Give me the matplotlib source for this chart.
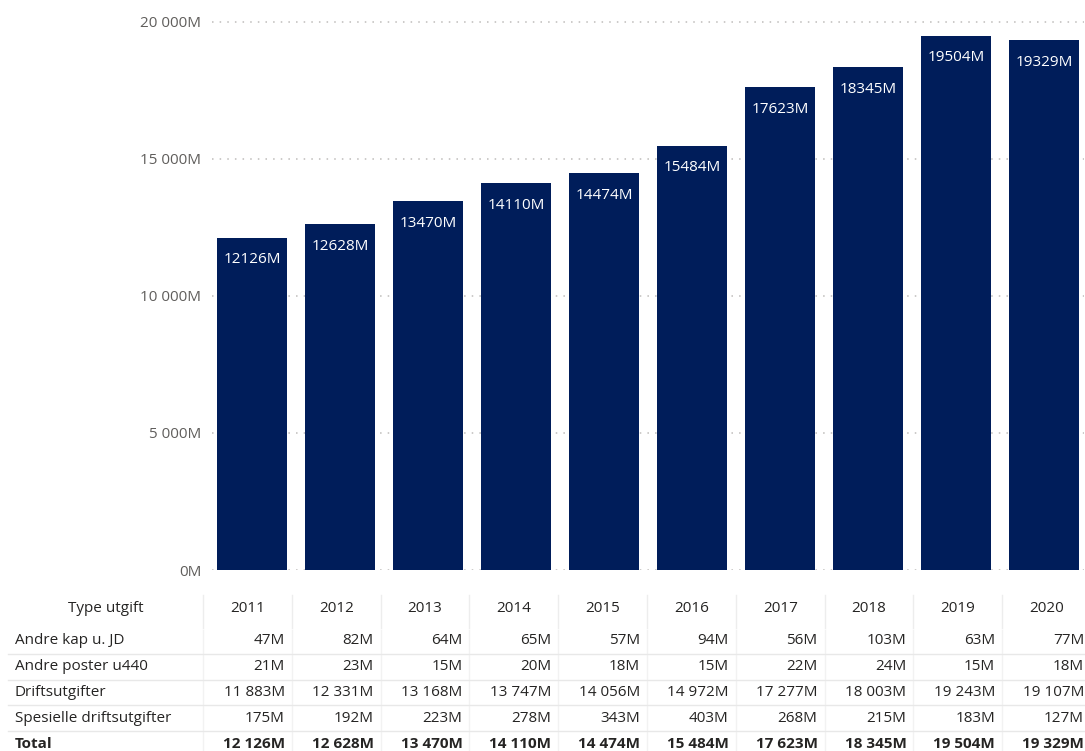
import matplotlib
matplotlib.use("Agg")
import matplotlib.pyplot as plt

plt.rcParams['font.family'] = ['Open Sans', 'Noto Sans', 'DejaVu Sans']

years = ['2011', '2012', '2013', '2014', '2015', '2016', '2017', '2018', '2019', '2020']
totals = [12126, 12628, 13470, 14110, 14474, 15484, 17623, 18345, 19504, 19329]

row_names = ['Andre kap u. JD', 'Andre poster u440', 'Driftsutgifter', 'Spesielle driftsutgifter']
andre_kap = [47, 82, 64, 65, 57, 94, 56, 103, 63, 77]
andre_poster = [21, 23, 15, 20, 18, 15, 22, 24, 15, 18]
drift = [11883, 12331, 13168, 13747, 14056, 14972, 17277, 18003, 19243, 19107]
spesielle = [175, 192, 223, 278, 343, 403, 268, 215, 183, 127]
yticks = [0, 5000, 10000, 15000, 20000]

BAR = '#001D5A'
TXT = '#252423'
GRAY = '#605E5C'


def fmt(v):
    return '{:,}M'.format(v).replace(',', ' ')


W, H = 1085, 751
fig = plt.figure(figsize=(W / 100, H / 100), dpi=100)

# table overlay in pixel coords
tab = fig.add_axes([0, 0, 1, 1])
tab.set_xlim(0, W)
tab.set_ylim(H, 0)
tab.axis('off')

# bar chart
ax = fig.add_axes([212.4 / W, 1 - 570 / H, 871.2 / W, 560 / H])
x = range(len(years))
ax.bar(x, totals, width=0.805, color=BAR, zorder=2)
ax.set_xlim(-0.45, 9.45)
ax.set_ylim(0, 20000 * 560 / 548)
ax.set_yticks(yticks)
ax.set_yticklabels([fmt(v) for v in yticks], color=GRAY, fontsize=11)
ax.tick_params(axis='y', length=0, pad=8)
ax.set_xticks([])
for s in ax.spines.values():
    s.set_visible(False)
ax.grid(axis='y', color='#BEBCBA', linestyle=(0, (1, 4)), linewidth=1.1, zorder=1)
ax.set_axisbelow(True)
ax.patch.set_alpha(0)

for i, v in enumerate(totals):
    ax.annotate('{}M'.format(v), (i, v), xytext=(0, -16), textcoords='offset points',
                ha='center', va='center', color='white', fontsize=11)

# table
first_l, first_r = 8, 203
step = 88.8
edges = [first_r + k * step for k in range(len(years) + 1)]
row_y = [641, 666, 692, 719]
sep_y = [654, 680, 705, 731]
line_c = '#E8E8E8'

tab.text((first_l + first_r) / 2, 608, 'Type utgift', ha='center', va='center',
         fontsize=11, color=TXT)
for k, yr in enumerate(years):
    tab.text((edges[k] + edges[k + 1]) / 2, 608, yr, ha='center', va='center',
             fontsize=11, color=TXT)
for e in [first_r] + edges[1:-1]:
    tab.plot([e, e], [595, 628], color='#EDEDED', lw=1)
    tab.plot([e, e], [630, H], color='#F2F2F2', lw=1)

for yy in sep_y:
    tab.plot([first_l, W], [yy, yy], color=line_c, lw=1)

rows = [andre_kap, andre_poster, drift, spesielle]
for name, vals, yy in zip(row_names, rows, row_y):
    tab.text(first_l + 7, yy, name, ha='left', va='center', fontsize=11, color=TXT)
    for k, v in enumerate(vals):
        tab.text(edges[k + 1] - 7, yy, fmt(v), ha='right', va='center',
                 fontsize=11, color=TXT)

tab.text(first_l + 7, 744, 'Total', ha='left', va='center', fontsize=11,
         color=TXT, fontweight='bold')
for k, v in enumerate(totals):
    tab.text(edges[k + 1] - 7, 744, fmt(v), ha='right', va='center',
             fontsize=11, color=TXT, fontweight='bold')

fig.savefig('out.png', dpi=100)
